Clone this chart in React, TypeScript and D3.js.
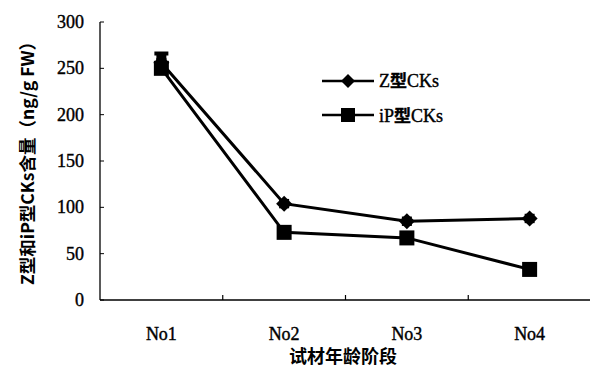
import React from "react";
import * as d3 from "d3";

const categories = ["No1", "No2", "No3", "No4"];
const zValues = [256, 104, 85, 88];
const zErrors = [4, 4, 4, 4];
const ipValues = [250, 73, 67, 33];
const ipErrors = [16, 2, 3, 2];
const yTicks = [0, 50, 100, 150, 200, 250, 300];

const W = 590, H = 369;
const left = 100, right = 591, top = 22, bottom = 300;

export default function App() {
  const x = d3.scaleBand<string>().domain(categories).range([left, right]);
  const y = d3.scaleLinear().domain([0, 300]).range([bottom, top]);
  const cx = (c: string) => (x(c) as number) + x.bandwidth() / 2;
  const line = d3.line<number>().x((_, i) => cx(categories[i])).y((v) => y(v));
  const font = "'Liberation Serif', 'DejaVu Serif', 'Times New Roman', serif";
  const cjk = "'Noto Sans CJK SC', sans-serif";
  const diamond = (px: number, py: number, r: number) =>
    `M${px},${py - r}L${px + r},${py}L${px},${py + r}L${px - r},${py}Z`;
  return (
    <svg width={W} height={H} style={{ position: "absolute", left: 0, top: 0, background: "#fff" }}>
      {/* axes */}
      <line x1={left} y1={top} x2={left} y2={bottom} stroke="#000" strokeWidth={1.3} />
      <line x1={left} y1={bottom} x2={right} y2={bottom} stroke="#000" strokeWidth={1.5} />
      {yTicks.map((t) => (
        <g key={t}>
          <line x1={left} x2={left + 4} y1={y(t)} y2={y(t)} stroke="#000" strokeWidth={1} />
          <text x={84} y={y(t) + 6} textAnchor="end" fontFamily={font} fontSize={18} stroke="#000" strokeWidth={0.4} fill="#000">{t}</text>
        </g>
      ))}
      {categories.slice(1).map((c) => (
        <line key={c} x1={x(c)} x2={x(c)} y1={bottom} y2={bottom - 5} stroke="#000" strokeWidth={1.2} />
      ))}
      {categories.map((c) => (
        <text key={c} x={cx(c)} y={340} textAnchor="middle" fontFamily={font} fontSize={18} stroke="#000" strokeWidth={0.4} fill="#000">{c}</text>
      ))}
      <text x={343} y={363} textAnchor="middle" fontFamily={cjk} fontSize={18} fontWeight="bold" fill="#000">试材年龄阶段</text>
      <text transform={`translate(34,159) rotate(-90)`} textAnchor="middle" fontFamily={cjk} fontSize={17.5} fontWeight="bold" fill="#000">Z型和iP型CKs含量（ng/g FW）</text>

      {/* series lines */}
      <path d={line(zValues) || ""} fill="none" stroke="#000" strokeWidth={3} />
      <path d={line(ipValues) || ""} fill="none" stroke="#000" strokeWidth={3} />

      {/* error bars */}
      {zValues.map((v, i) => {
        const px = cx(categories[i]);
        return (
          <g key={"ze" + i}>
            <line x1={px} x2={px} y1={y(v + zErrors[i])} y2={y(v - zErrors[i])} stroke="#000" strokeWidth={2} />
            <line x1={px - 5} x2={px + 5} y1={y(v + zErrors[i])} y2={y(v + zErrors[i])} stroke="#000" strokeWidth={2} />
            <line x1={px - 5} x2={px + 5} y1={y(v - zErrors[i])} y2={y(v - zErrors[i])} stroke="#000" strokeWidth={2} />
          </g>
        );
      })}
      {ipValues.map((v, i) => {
        const px = cx(categories[i]);
        return (
          <g key={"ie" + i}>
            <line x1={px} x2={px} y1={y(v + ipErrors[i])} y2={y(v)} stroke="#000" strokeWidth={10} />
            <line x1={px - 7} x2={px + 7} y1={y(v + ipErrors[i])} y2={y(v + ipErrors[i])} stroke="#000" strokeWidth={4} />
          </g>
        );
      })}

      {/* markers */}
      {zValues.map((v, i) => (
        <path key={"zm" + i} d={diamond(cx(categories[i]), y(v), 8)} fill="#000" />
      ))}
      {ipValues.map((v, i) => (
        <rect key={"im" + i} x={cx(categories[i]) - 7.5} y={y(v) - 7.5} width={15} height={15} fill="#000" />
      ))}

      {/* legend */}
      <line x1={322} x2={374} y1={81} y2={81} stroke="#000" strokeWidth={2.5} />
      <path d={diamond(348, 81, 7)} fill="#000" />
      <text x={379} y={87} fontFamily={font} fontSize={18} stroke="#000" strokeWidth={0.4} fill="#000">Z<tspan fontFamily={cjk} fontSize={17} fontWeight="bold">型</tspan>CKs</text>
      <line x1={322} x2={374} y1={115} y2={115} stroke="#000" strokeWidth={2.5} />
      <rect x={341} y={108} width={14} height={14} fill="#000" />
      <text x={379} y={122} fontFamily={font} fontSize={18} stroke="#000" strokeWidth={0.4} fill="#000">iP<tspan fontFamily={cjk} fontSize={17} fontWeight="bold">型</tspan>CKs</text>
    </svg>
  );
}
